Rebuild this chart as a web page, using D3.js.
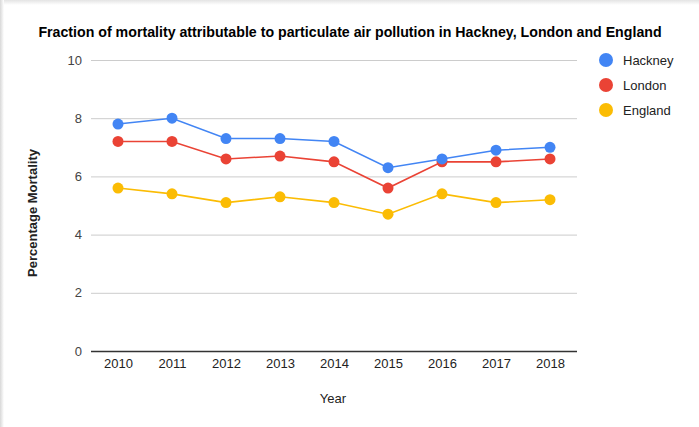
<!DOCTYPE html>
<html>
<head>
<meta charset="utf-8">
<script src="https://cdn.jsdelivr.net/npm/d3@7"></script>
<style>
  body { margin: 0; background: #fff; font-family: "Liberation Sans", Arial, sans-serif; }
  #chart { position: absolute; left: 0; top: 0; }
</style>
</head>
<body>
<div id="chart"></div>
<script>
const years = ["2010", "2011", "2012", "2013", "2014", "2015", "2016", "2017", "2018"];
const hackney = [7.8, 8.0, 7.3, 7.3, 7.2, 6.3, 6.6, 6.9, 7.0];
const london = [7.2, 7.2, 6.6, 6.7, 6.5, 5.6, 6.5, 6.5, 6.6];
const england = [5.6, 5.4, 5.1, 5.3, 5.1, 4.7, 5.4, 5.1, 5.2];
const seriesNames = ["Hackney", "London", "England"];
const seriesColors = ["#4285f4", "#ea4335", "#fbbc04"];
const yTicks = [0, 2, 4, 6, 8, 10];

const width = 699,
  height = 427;

const series = [hackney, london, england].map((v, i) => ({
  name: seriesNames[i],
  color: seriesColors[i],
  values: v
}));

const x = d3.scalePoint()
  .domain(years)
  .range([91, 577])
  .padding(0.5);

const y = d3.scaleLinear()
  .domain([0, 10])
  .range([351, 60]);

const svg = d3.select("#chart")
  .append("svg")
  .attr("width", width)
  .attr("height", height);

// card edge shadow
const defs = svg.append("defs");
const gl = defs.append("linearGradient").attr("id", "shL").attr("x1", 0).attr("x2", 1);
gl.append("stop").attr("offset", 0).attr("stop-color", "#d8d8d8");
gl.append("stop").attr("offset", 1).attr("stop-color", "#ffffff");
const gt = defs.append("linearGradient").attr("id", "shT").attr("x1", 0).attr("x2", 0).attr("y1", 0).attr("y2", 1);
gt.append("stop").attr("offset", 0).attr("stop-color", "#e4e4e4");
gt.append("stop").attr("offset", 1).attr("stop-color", "#ffffff");
svg.append("rect").attr("x", 0).attr("y", 0).attr("width", width).attr("height", 5).attr("fill", "url(#shT)");
svg.append("rect").attr("x", 0).attr("y", 0).attr("width", 4).attr("height", height).attr("fill", "url(#shL)");

// title
svg.append("text")
  .attr("x", 350)
  .attr("y", 37)
  .attr("text-anchor", "middle")
  .attr("font-size", 14.2)
  .attr("font-weight", "bold")
  .attr("fill", "#000")
  .text("Fraction of mortality attributable to particulate air pollution in Hackney, London and England");

// gridlines + y labels
const yAxis = d3.axisLeft(y)
  .tickValues(yTicks)
  .tickSize(-(577 - 91))
  .tickPadding(9)
  .tickFormat(d3.format("d"));

const gy = svg.append("g")
  .attr("transform", "translate(91,0)")
  .call(yAxis);
gy.select(".domain").remove();
gy.selectAll(".tick line")
  .attr("stroke", d => d === 0 ? "#333" : "#ccc")
  .attr("stroke-width", d => d === 0 ? 1.3 : 1);
gy.selectAll(".tick text")
  .attr("font-size", 13)
  .attr("font-family", "Liberation Sans, Arial, sans-serif")
  .attr("fill", "#444");

// x labels
const xAxis = d3.axisBottom(x).tickSize(0).tickPadding(8);
const gx = svg.append("g")
  .attr("transform", "translate(0,351)")
  .call(xAxis);
gx.select(".domain").remove();
gx.selectAll(".tick text")
  .attr("font-size", 13)
  .attr("font-family", "Liberation Sans, Arial, sans-serif")
  .attr("fill", "#222");

// axis titles
svg.append("text")
  .attr("x", 333)
  .attr("y", 403)
  .attr("text-anchor", "middle")
  .attr("font-size", 13)
  .attr("fill", "#222")
  .text("Year");

svg.append("text")
  .attr("transform", "translate(37,213) rotate(-90)")
  .attr("text-anchor", "middle")
  .attr("font-size", 13)
  .attr("font-weight", "bold")
  .attr("fill", "#222")
  .text("Percentage Mortality");

// lines and points
const line = d3.line()
  .x((d, i) => x(years[i]))
  .y(d => y(d));

const sg = svg.append("g")
  .selectAll("g")
  .data(series.slice().reverse())
  .join("g");

sg.append("path")
  .attr("d", d => line(d.values))
  .attr("fill", "none")
  .attr("stroke", d => d.color)
  .attr("stroke-width", 1.6);

sg.selectAll("circle")
  .data(d => d.values.map((v, i) => ({ v, i, color: d.color })))
  .join("circle")
  .attr("cx", d => x(years[d.i]))
  .attr("cy", d => y(d.v))
  .attr("r", 5.5)
  .attr("fill", d => d.color);

// legend
const lg = svg.append("g")
  .selectAll("g")
  .data(series)
  .join("g")
  .attr("transform", (d, i) => `translate(606,${60 + i * 25})`);

lg.append("circle")
  .attr("r", 7)
  .attr("fill", d => d.color);

lg.append("text")
  .attr("x", 17)
  .attr("y", 5)
  .attr("font-size", 13)
  .attr("fill", "#222")
  .text(d => d.name);
</script>
</body>
</html>
